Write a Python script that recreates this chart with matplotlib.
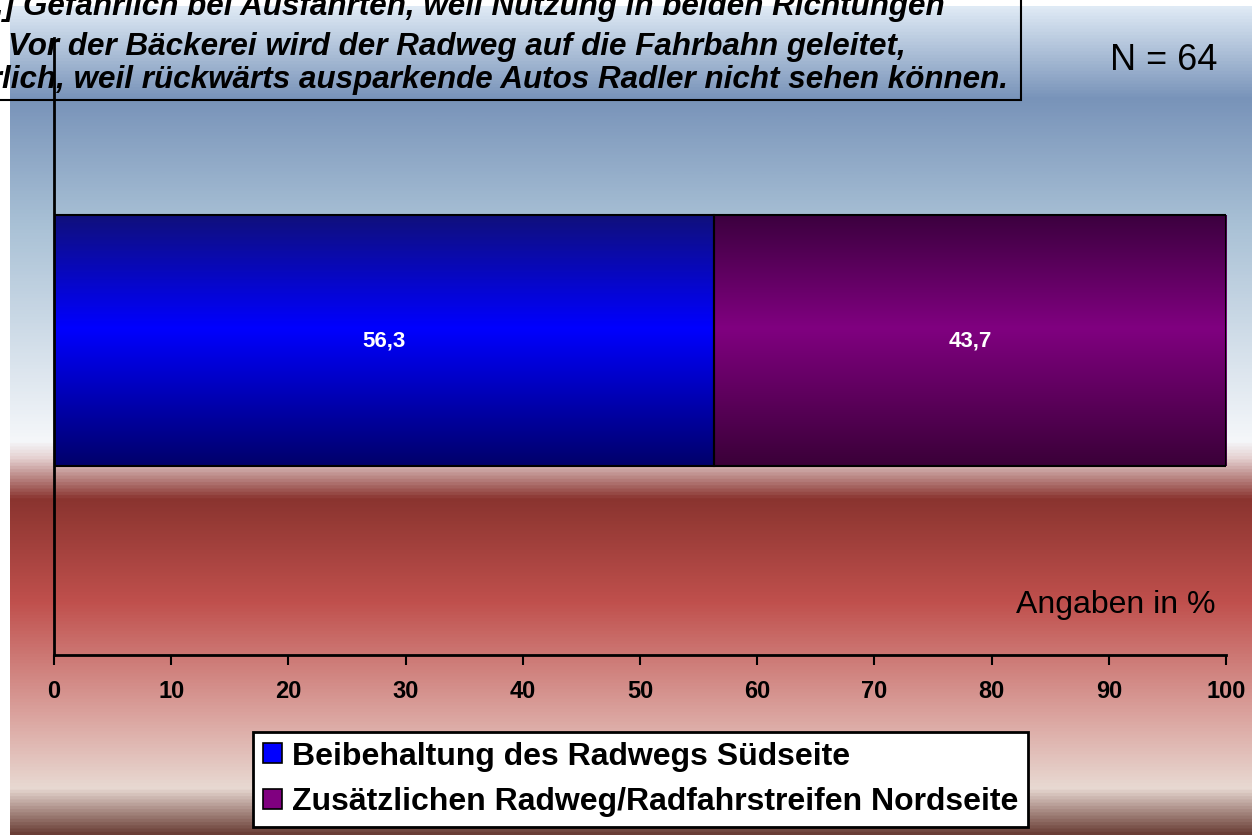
import matplotlib.pyplot as plt
import numpy as np
from matplotlib.colors import LinearSegmentedColormap
from matplotlib.patches import Rectangle, Patch

categories = ['Beibehaltung des Radwegs Südseite',
              'Zusätzlichen Radweg/Radfahrstreifen Nordseite']
values = [56.3, 43.7]
value_labels = ['56,3', '43,7']
ticks = list(range(0, 101, 10))
title_lines = ['[...] Gefährlich bei Ausfahrten, weil Nutzung in beiden Richtungen',
               'Vor der Bäckerei wird der Radweg auf die Fahrbahn geleitet,',
               'gefährlich, weil rückwärts ausparkende Autos Radler nicht sehen können.']
n_label = 'N = 64'
unit_label = 'Angaben in %'

plt.rcParams['font.family'] = ['Liberation Sans', 'DejaVu Sans']

W, H = 1252, 835
fig = plt.figure(figsize=(W / 100, H / 100), dpi=100)

# background gradient (top -> bottom)
bg_stops = [(0.0, '#dfeaf5'), (0.11, '#7893b9'), (0.26, '#a8c0d5'),
            (0.525, '#f5f7fa'), (0.545, '#e6d2d2'), (0.595, '#8a342f'),
            (0.72, '#c0504d'), (0.865, '#dca8a3'), (0.945, '#e8d9d2'),
            (1.0, '#6a3e36')]
bg_cmap = LinearSegmentedColormap.from_list('bg', bg_stops)
bg = fig.add_axes([10 / W, 0, 1 - 10 / W, 1 - 6 / H])
bg.imshow(np.linspace(0, 1, 512).reshape(-1, 1), cmap=bg_cmap, aspect='auto',
          extent=[0, 1, 0, 1], origin='upper')
bg.axis('off')

ax = fig.add_axes([54 / W, (H - 655) / H, (1226 - 54) / W, (655 - 38) / H])
ax.patch.set_alpha(0)

blue_cmap = LinearSegmentedColormap.from_list(
    'b', [(0, '#00006a'), (0.55, '#0000ff'), (1, '#10107c')])
purple_cmap = LinearSegmentedColormap.from_list(
    'p', [(0, '#3a0038'), (0.55, '#800080'), (1, '#3c003f')])
cmaps = [blue_cmap, purple_cmap]
colors = ['#0000ff', '#800080']

y_pos = 0.5097
bar_h = 0.4068
lefts = np.concatenate([[0], np.cumsum(values)[:-1]])
bars = ax.barh([y_pos] * len(values), values, left=lefts, height=bar_h,
               color=colors, edgecolor='none', zorder=1)
grad = np.linspace(0, 1, 256).reshape(-1, 1)
for b, cm in zip(bars, cmaps):
    x0, y0 = b.get_x(), b.get_y()
    im = ax.imshow(grad, cmap=cm, aspect='auto', origin='lower',
                   extent=[x0, x0 + b.get_width(), y0, y0 + b.get_height()],
                   zorder=2)
    im.set_clip_path(b)
ax.barh([y_pos] * len(values), values, left=lefts, height=bar_h,
        fill=False, edgecolor='black', linewidth=1.5, zorder=3)
for lft, v, lab in zip(lefts, values, value_labels):
    ax.text(lft + v / 2, y_pos, lab, ha='center', va='center', color='white',
            fontsize=16, fontweight='bold', zorder=4)

ax.set_xlim(0, 100)
ax.set_ylim(0, 1)
ax.set_xticks(ticks)
ax.set_xticklabels([str(t) for t in ticks], fontsize=17, fontweight='bold')
ax.set_yticks([])
ax.tick_params(axis='x', direction='out', length=7, width=1.5, pad=11)
for s in ['top', 'right']:
    ax.spines[s].set_visible(False)
for s in ['left', 'bottom']:
    ax.spines[s].set_linewidth(2)

# title box (cut at the top/left like the original)
fig.patches.append(Rectangle((-0.01, (H - 100) / H), 1021 / W + 0.01, 0.2,
                             transform=fig.transFigure, fill=False,
                             edgecolor='black', linewidth=1.5, zorder=5))
for yy, line in zip([7, 47, 80], title_lines):
    fig.text(457 / W, 1 - yy / H, line, ha='center', va='center',
             fontsize=22.6, fontweight='bold', fontstyle='italic', zorder=6)

fig.text(1217 / W, 1 - 60 / H, n_label, ha='right', va='center', fontsize=26)
fig.text(1215 / W, 1 - 605 / H, unit_label, ha='right', va='center', fontsize=23)

handles = [Patch(facecolor=c, edgecolor='black', linewidth=1.2) for c in colors]
leg = fig.legend(handles, categories, loc='center',
                 bbox_to_anchor=((253 + 1028) / 2 / W, 1 - 779.5 / H),
                 prop={'size': 23, 'weight': 'bold'}, frameon=True,
                 fancybox=False, framealpha=1, edgecolor='black',
                 handlelength=0.6, handleheight=0.6, handletextpad=0.3,
                 borderpad=0.3, labelspacing=0.5, borderaxespad=0)
leg.get_frame().set_linewidth(2)

fig.savefig('out.png', dpi=100)
